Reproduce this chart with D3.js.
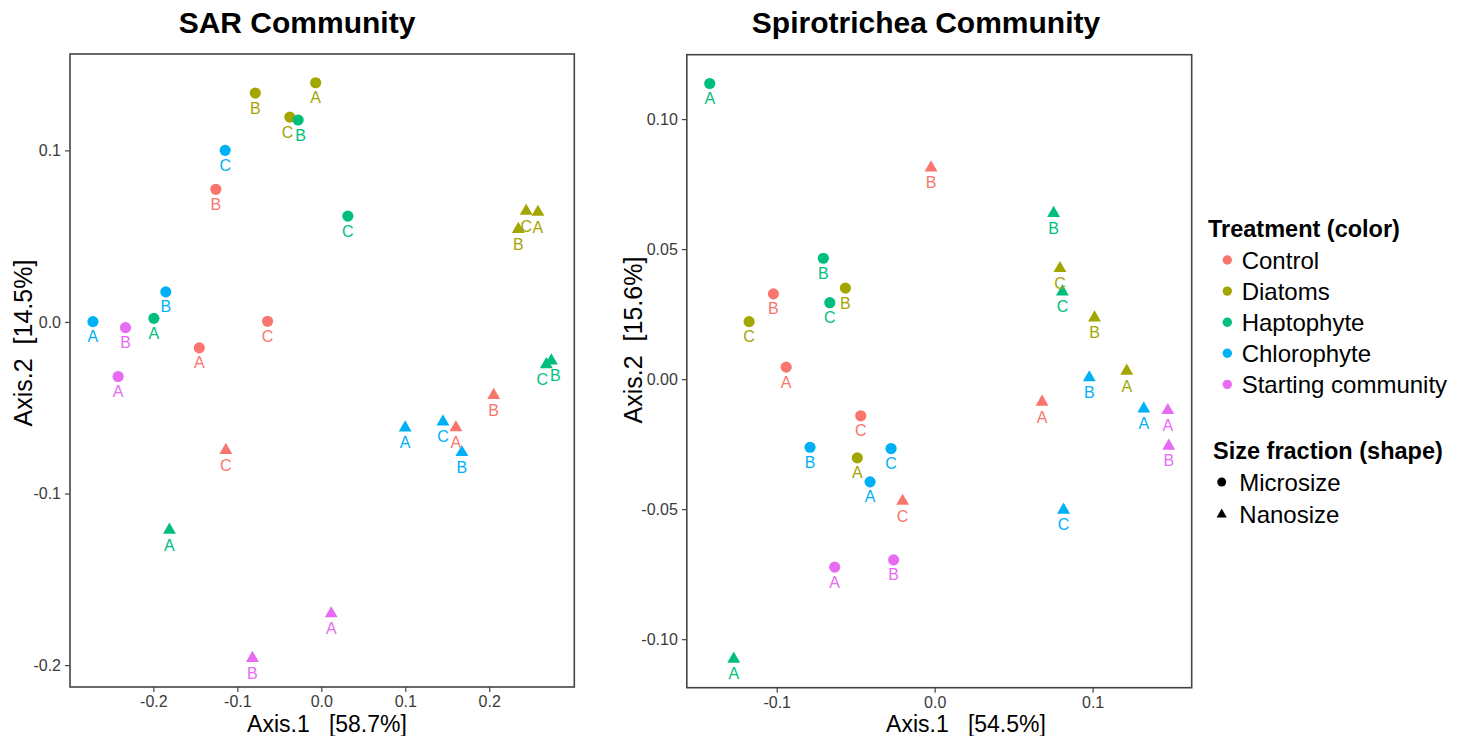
<!DOCTYPE html>
<html>
<head>
<meta charset="utf-8">
<script src="https://cdn.jsdelivr.net/npm/d3@7"></script>
<style>
  body { margin: 0; background: #fff; }
  text { font-family: "Liberation Sans", Arial, sans-serif; }
</style>
</head>
<body>
<div id="chart"></div>
<script>
var W = 1466, H = 736;

// legend categories
var treatments = ["Control", "Diatoms", "Haptophyte", "Chlorophyte", "Starting community"];
var treatColors = ["#F8766D", "#A3A500", "#00BF7D", "#00B0F6", "#E76BF3"];
var sizeFractions = ["Microsize", "Nanosize"];

// [treatment, size fraction, replicate, Axis.1, Axis.2]
var sarPoints = [
  ["Control", "Microsize", "A", -0.1453, -0.0151],
  ["Control", "Microsize", "B", -0.1256, 0.0773],
  ["Control", "Microsize", "C", -0.0640, 0.0004],
  ["Control", "Nanosize", "A", 0.1603, -0.0616],
  ["Control", "Nanosize", "B", 0.2053, -0.0427],
  ["Control", "Nanosize", "C", -0.1137, -0.0748],
  ["Diatoms", "Microsize", "A", -0.0067, 0.1394],
  ["Diatoms", "Microsize", "B", -0.0786, 0.1334],
  ["Diatoms", "Microsize", "C", -0.0375, 0.1194],
  ["Diatoms", "Nanosize", "A", 0.2580, 0.0640],
  ["Diatoms", "Nanosize", "B", 0.2346, 0.0540],
  ["Diatoms", "Nanosize", "C", 0.2440, 0.0646],
  ["Haptophyte", "Microsize", "A", -0.1994, 0.0021],
  ["Haptophyte", "Microsize", "B", -0.0276, 0.1177],
  ["Haptophyte", "Microsize", "C", 0.0316, 0.0617],
  ["Haptophyte", "Nanosize", "A", -0.1809, -0.1213],
  ["Haptophyte", "Nanosize", "B", 0.2740, -0.0226],
  ["Haptophyte", "Nanosize", "C", 0.2680, -0.0248],
  ["Chlorophyte", "Microsize", "A", -0.2720, 0.0002],
  ["Chlorophyte", "Microsize", "B", -0.1852, 0.0175],
  ["Chlorophyte", "Microsize", "C", -0.1145, 0.1000],
  ["Chlorophyte", "Nanosize", "A", 0.0999, -0.0617],
  ["Chlorophyte", "Nanosize", "B", 0.1674, -0.0760],
  ["Chlorophyte", "Nanosize", "C", 0.1449, -0.0582],
  ["Starting community", "Microsize", "A", -0.2420, -0.0318],
  ["Starting community", "Microsize", "B", -0.2332, -0.0033],
  ["Starting community", "Nanosize", "A", 0.0118, -0.1700],
  ["Starting community", "Nanosize", "B", -0.0821, -0.1960]
];

var spiroPoints = [
  ["Control", "Microsize", "A", -0.0940, 0.0046],
  ["Control", "Microsize", "B", -0.1021, 0.0328],
  ["Control", "Microsize", "C", -0.0468, -0.0141],
  ["Control", "Nanosize", "A", 0.0680, -0.0088],
  ["Control", "Nanosize", "B", -0.0023, 0.0813],
  ["Control", "Nanosize", "C", -0.0203, -0.0469],
  ["Diatoms", "Microsize", "A", -0.0490, -0.0303],
  ["Diatoms", "Microsize", "B", -0.0565, 0.0350],
  ["Diatoms", "Microsize", "C", -0.1175, 0.0221],
  ["Diatoms", "Nanosize", "A", 0.1216, 0.0031],
  ["Diatoms", "Nanosize", "B", 0.1012, 0.0236],
  ["Diatoms", "Nanosize", "C", 0.0793, 0.0426],
  ["Haptophyte", "Microsize", "A", -0.1424, 0.1137],
  ["Haptophyte", "Microsize", "B", -0.0705, 0.0465],
  ["Haptophyte", "Microsize", "C", -0.0664, 0.0294],
  ["Haptophyte", "Nanosize", "A", -0.1272, -0.1076],
  ["Haptophyte", "Nanosize", "B", 0.0753, 0.0638],
  ["Haptophyte", "Nanosize", "C", 0.0809, 0.0336],
  ["Chlorophyte", "Microsize", "A", -0.0409, -0.0395],
  ["Chlorophyte", "Microsize", "B", -0.0789, -0.0262],
  ["Chlorophyte", "Microsize", "C", -0.0276, -0.0267],
  ["Chlorophyte", "Nanosize", "A", 0.1324, -0.0114],
  ["Chlorophyte", "Nanosize", "B", 0.0979, 0.0006],
  ["Chlorophyte", "Nanosize", "C", 0.0816, -0.0503],
  ["Starting community", "Microsize", "A", -0.0633, -0.0723],
  ["Starting community", "Microsize", "B", -0.0260, -0.0695],
  ["Starting community", "Nanosize", "A", 0.1476, -0.0120],
  ["Starting community", "Nanosize", "B", 0.1482, -0.0257]
];

var sarXTicks = [-0.2, -0.1, 0.0, 0.1, 0.2];
var sarYTicks = [-0.2, -0.1, 0.0, 0.1];
var spiroXTicks = [-0.1, 0.0, 0.1];
var spiroYTicks = [-0.10, -0.05, 0.00, 0.05, 0.10];

var svg = d3.select("#chart").append("svg")
  .attr("width", W)
  .attr("height", H);

svg.append("rect").attr("width", W).attr("height", H).attr("fill", "#fff");

var color = d3.scaleOrdinal().domain(treatments).range(treatColors);
var shape = d3.scaleOrdinal().domain(sizeFractions).range([d3.symbolCircle, d3.symbolTriangle]);
var shapeSize = d3.scaleOrdinal().domain(sizeFractions).range([98, 72]);

var loc = d3.formatLocale({decimal: ".", thousands: ",", grouping: [3], currency: ["", ""], minus: "-"});

// ggplot style 5% padding around the data
function padded(vals) {
  var ext = d3.extent(vals);
  var pad = (ext[1] - ext[0]) * 0.05;
  return [ext[0] - pad, ext[1] + pad];
}

function drawPanel(p) {
  var g = svg.append("g");

  var x = d3.scaleLinear()
    .domain(padded(p.points.map(function(d){ return d[3]; })))
    .range([p.x0, p.x1]);
  var y = d3.scaleLinear()
    .domain(padded(p.points.map(function(d){ return d[4]; })))
    .range([p.y1, p.y0]);

  var xAxis = g.append("g")
    .attr("transform", "translate(0," + p.y1 + ")")
    .call(d3.axisBottom(x).tickValues(p.xTicks).tickSize(5).tickPadding(4)
      .tickFormat(loc.format(p.xFmt)));
  var yAxis = g.append("g")
    .attr("transform", "translate(" + p.x0 + ",0)")
    .call(d3.axisLeft(y).tickValues(p.yTicks).tickSize(5).tickPadding(4)
      .tickFormat(loc.format(p.yFmt)));

  [xAxis, yAxis].forEach(function(a){
    a.select(".domain").remove();
    a.selectAll("line").attr("stroke", "#444").attr("stroke-width", 1.2);
    a.selectAll("text")
      .attr("fill", "#3a3a3a")
      .style("font-size", "16px")
      .style("font-family", "'Liberation Sans', Arial, sans-serif");
  });

  g.append("rect")
    .attr("x", p.x0).attr("y", p.y0)
    .attr("width", p.x1 - p.x0).attr("height", p.y1 - p.y0)
    .attr("fill", "none")
    .attr("stroke", "#444")
    .attr("stroke-width", 1.6);

  g.selectAll(".pt")
    .data(p.points)
    .enter()
    .append("path")
    .attr("class", "pt")
    .attr("transform", function(d){ return "translate(" + x(d[3]) + "," + y(d[4]) + ")"; })
    .attr("d", function(d){ return d3.symbol(shape(d[1]), shapeSize(d[1]))(); })
    .attr("fill", function(d){ return color(d[0]); });

  // labels sit under their point; nudge apart the ones that collide
  var labs = p.points.map(function(d){
    return {d: d, lx: x(d[3]), ly: y(d[4]) + 20.5};
  });
  for (var i = 0; i < labs.length; i++) {
    for (var j = i + 1; j < labs.length; j++) {
      var dx = labs[j].lx - labs[i].lx, dy = labs[j].ly - labs[i].ly;
      if (Math.abs(dx) < 11 && Math.abs(dy) < 12) {
        var push = (13 - Math.abs(dx)) / 2;
        var s = dx >= 0 ? 1 : -1;
        labs[i].lx -= s * push;
        labs[j].lx += s * push;
      }
    }
  }

  g.selectAll(".lab")
    .data(labs)
    .enter()
    .append("text")
    .attr("class", "lab")
    .attr("x", function(d){ return d.lx; })
    .attr("y", function(d){ return d.ly; })
    .attr("text-anchor", "middle")
    .style("font-size", "16px")
    .attr("fill", function(d){ return color(d.d[0]); })
    .text(function(d){ return d.d[2]; });

  svg.append("text")
    .attr("x", p.titleX).attr("y", 33)
    .attr("text-anchor", "middle")
    .style("font-size", "30px")
    .style("font-weight", "bold")
    .text(p.title);

  svg.append("text")
    .attr("x", p.xTitleX).attr("y", 731.5)
    .attr("text-anchor", "middle")
    .style("font-size", "23px")
    .style("white-space", "pre")
    .text(p.xTitle);

  svg.append("text")
    .attr("transform", "translate(" + p.yTitleX + "," + p.yTitleY + ") rotate(-90)")
    .attr("text-anchor", "middle")
    .style("font-size", "25px")
    .style("white-space", "pre")
    .text(p.yTitle);
}

drawPanel({
  points: sarPoints,
  x0: 70, x1: 574.3, y0: 54, y1: 687,
  xTicks: sarXTicks, yTicks: sarYTicks, xFmt: ".1f", yFmt: ".1f",
  title: "SAR Community", titleX: 297,
  xTitle: "Axis.1   [58.7%]", xTitleX: 327,
  yTitle: "Axis.2  [14.5%]", yTitleX: 31.5, yTitleY: 343
});

drawPanel({
  points: spiroPoints,
  x0: 686.8, x1: 1191.7, y0: 54.7, y1: 687.7,
  xTicks: spiroXTicks, yTicks: spiroYTicks, xFmt: ".1f", yFmt: ".2f",
  title: "Spirotrichea Community", titleX: 926,
  xTitle: "Axis.1   [54.5%]", xTitleX: 966,
  yTitle: "Axis.2  [15.6%]", yTitleX: 641.5, yTitleY: 340
});

// legends
var leg = svg.append("g");
leg.append("text")
  .attr("x", 1208).attr("y", 237)
  .style("font-size", "23.5px").style("font-weight", "bold")
  .text("Treatment (color)");

var items = leg.selectAll(".titem")
  .data(treatments)
  .enter()
  .append("g")
  .attr("class", "titem")
  .attr("transform", function(d, i){ return "translate(1227.3," + (260 + i * 31.1) + ")"; });
items.append("circle").attr("r", 4.7).attr("fill", function(d){ return color(d); });
items.append("text")
  .attr("x", 14.4).attr("y", 8.6)
  .style("font-size", "24px")
  .text(function(d){ return d; });

leg.append("text")
  .attr("x", 1213).attr("y", 459)
  .style("font-size", "23.5px").style("font-weight", "bold")
  .text("Size fraction (shape)");

var sitems = leg.selectAll(".sitem")
  .data(sizeFractions)
  .enter()
  .append("g")
  .attr("class", "sitem")
  .attr("transform", function(d, i){ return "translate(1221.7," + (482 + i * 32.5) + ")"; });
sitems.append("path")
  .attr("d", function(d, i){ return d3.symbol(shape(d), i ? 45 : 62)(); })
  .attr("fill", "#000");
sitems.append("text")
  .attr("x", 17.6).attr("y", 8.6)
  .style("font-size", "24px")
  .text(function(d){ return d; });
</script>
</body>
</html>
